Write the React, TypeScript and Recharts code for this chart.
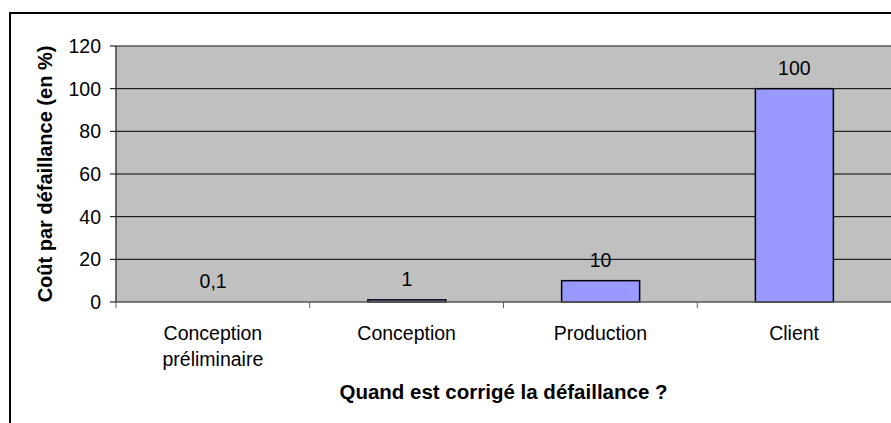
import { BarChart, Bar, XAxis, YAxis, CartesianGrid, LabelList, ReferenceLine } from 'recharts';

const categories = ['Conception\npréliminaire', 'Conception', 'Production', 'Client'];
const costs = [0.1, 1, 10, 100];
const yTicks = [0, 20, 40, 60, 80, 100, 120];

const data = categories.map((name, i) => ({ name, cost: costs[i] }));

const W = 891;
const H = 423;
const margin = { top: 46, right: 0, bottom: 31, left: 30 };
const yAxisW = 86;
const xAxisH = 90;
const axisY = H - margin.bottom - xAxisH;
const bandW = (W - margin.left - yAxisW - margin.right) / categories.length;
const font = "'Liberation Sans', Arial, sans-serif";

const CategoryTick = (props: any) => {
  const { x, payload } = props;
  const lines = String(payload.value).split('\n');
  return (
    <g>
      <line x1={x - bandW / 2} y1={axisY} x2={x - bandW / 2} y2={axisY + 6} stroke="#606060" />
      <text x={x} y={axisY + 38} textAnchor="middle" fill="#000" fontSize={19.5} fontFamily={font}>
        {lines.map((l, i) => (
          <tspan key={i} x={x} dy={i === 0 ? 0 : 26}>
            {l}
          </tspan>
        ))}
      </text>
    </g>
  );
};

const BarShape = (props: any) => {
  const { x, y, width, height } = props;
  if (height < 0.5) return <g />;
  return <rect x={x} y={y} width={width} height={height} fill="#9999FF" stroke="#000" strokeWidth={1.5} />;
};

export default function App() {
  return (
    <div style={{ position: 'absolute', left: 0, top: 0, width: W, height: H, overflow: 'hidden', background: '#fff' }}>
      <div
        style={{
          position: 'absolute',
          left: 9,
          top: 12,
          width: 1000,
          height: 1000,
          border: '2px solid #000',
        }}
      />
      <div style={{ position: 'absolute', left: 0, top: 0 }}>
        <BarChart width={W} height={H} data={data} margin={margin} barCategoryGap="30%">
          <CartesianGrid horizontal vertical={false} stroke="#000" fill="#C0C0C0" fillOpacity={1} />
          <XAxis
            dataKey="name"
            height={xAxisH}
            tick={<CategoryTick />}
            tickLine={false}
            axisLine={{ stroke: '#808080' }}
            interval={0}
            label={({ viewBox }: any) => (
              <text
                x={viewBox.x + viewBox.width / 2}
                y={399}
                textAnchor="middle"
                fontSize={20.5}
                fontWeight="bold"
                fontFamily={font}
                fill="#000"
              >
                Quand est corrigé la défaillance ?
              </text>
            )}
          />
          <YAxis
            width={yAxisW}
            domain={[0, 120]}
            ticks={yTicks}
            interval={0}
            tick={{ fill: '#000', fontSize: 19.5, fontFamily: font }}
            tickLine={{ stroke: '#000' }}
            tickSize={6}
            tickMargin={9}
            axisLine={{ stroke: '#404040', strokeWidth: 1.5 }}
            label={({ viewBox }: any) => {
              const cx = 45;
              const cy = viewBox.y + viewBox.height / 2;
              return (
                <text
                  x={cx}
                  y={cy}
                  transform={`rotate(-90, ${cx}, ${cy})`}
                  textAnchor="middle"
                  dominantBaseline="central"
                  fontSize={20}
                  fontWeight="bold"
                  fontFamily={font}
                  fill="#000"
                >
                  Coût par défaillance (en %)
                </text>
              );
            }}
          />
          <ReferenceLine y={120} stroke="#808080" />
          <Bar dataKey="cost" shape={<BarShape />} isAnimationActive={false}>
            <LabelList
              dataKey="cost"
              position="top"
              offset={14}
              fill="#000"
              fontSize={19.5}
              fontFamily={font}
              formatter={(v: any) => String(v).replace('.', ',')}
            />
          </Bar>
        </BarChart>
      </div>
    </div>
  );
}
